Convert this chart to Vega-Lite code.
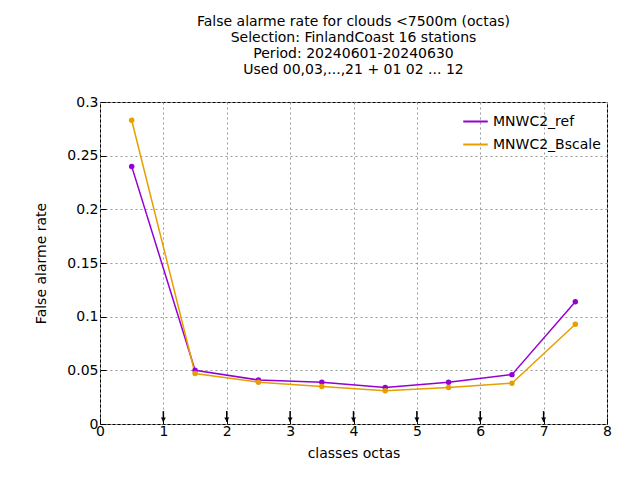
{
"$schema":"https://vega.github.io/schema/vega-lite/v6.json",
"width":507,"height":322,
"autosize":"none",
"padding":{"left":100,"top":102,"right":33,"bottom":56},
"background":"white",
"title":{"text":["False alarme rate  for clouds <7500m (octas)","Selection: FinlandCoast      16 stations","Period: 20240601-20240630","Used 00,03,...,21 + 01 02 ... 12"],"font":"DejaVu Sans","fontSize":14,"fontWeight":"normal","lineHeight":16,"offset":18},
"config":{"font":"DejaVu Sans","view":{"stroke":"black"},"axis":{"labelFont":"DejaVu Sans","titleFont":"DejaVu Sans","labelFontSize":14,"titleFontSize":14,"titleFontWeight":"normal","gridDash":[2,3],"gridColor":"#999","domain":false,"tickColor":"black","tickSize":-6,"labelColor":"black","labelOverlap":false,"labelFlush":false}},
"layer":[
{"data":{"values":[
{"x":0.5,"y":0.24,"s":"MNWC2_ref"},{"x":1.5,"y":0.05,"s":"MNWC2_ref"},{"x":2.5,"y":0.041,"s":"MNWC2_ref"},{"x":3.5,"y":0.039,"s":"MNWC2_ref"},{"x":4.5,"y":0.034,"s":"MNWC2_ref"},{"x":5.5,"y":0.039,"s":"MNWC2_ref"},{"x":6.5,"y":0.046,"s":"MNWC2_ref"},{"x":7.5,"y":0.114,"s":"MNWC2_ref"},
{"x":0.5,"y":0.283,"s":"MNWC2_Bscale"},{"x":1.5,"y":0.047,"s":"MNWC2_Bscale"},{"x":2.5,"y":0.039,"s":"MNWC2_Bscale"},{"x":3.5,"y":0.035,"s":"MNWC2_Bscale"},{"x":4.5,"y":0.031,"s":"MNWC2_Bscale"},{"x":5.5,"y":0.034,"s":"MNWC2_Bscale"},{"x":6.5,"y":0.038,"s":"MNWC2_Bscale"},{"x":7.5,"y":0.093,"s":"MNWC2_Bscale"}]},
"mark":{"type":"line","point":{"size":30,"filled":true},"strokeWidth":1.5},
"encoding":{
"x":{"field":"x","type":"quantitative","scale":{"domain":[0,8],"nice":false},"axis":{"title":"classes octas","values":[0,1,2,3,4,5,6,7,8],"format":"d","labelPadding":6,"titlePadding":8}},
"y":{"field":"y","type":"quantitative","scale":{"domain":[0,0.3],"nice":false},"axis":{"title":"False alarme rate","values":[0,0.05,0.1,0.15,0.2,0.25,0.3],"format":"~g","labelPadding":8,"titlePadding":18}},
"color":{"field":"s","type":"nominal","sort":["MNWC2_ref","MNWC2_Bscale"],"scale":{"domain":["MNWC2_ref","MNWC2_Bscale"],"range":["#9400d3","#e69f00"]},"legend":{"title":null,"orient":"top-right","labelFontSize":14,"symbolType":"stroke","symbolStrokeWidth":2,"symbolSize":600,"direction":"vertical","offset":6,"rowPadding":2}}}},
{"data":{"values":[{"x":1},{"x":2},{"x":3},{"x":4},{"x":5},{"x":6},{"x":7}]},
"layer":[
{"mark":{"type":"rule","color":"black","strokeWidth":1.5},"encoding":{"x":{"field":"x","type":"quantitative"},"y":{"datum":0.012},"y2":{"datum":0.002}}},
{"mark":{"type":"point","shape":"triangle-down","filled":true,"color":"black","size":25,"opacity":1},"encoding":{"x":{"field":"x","type":"quantitative"},"y":{"datum":0.004}}}]}
]
}
